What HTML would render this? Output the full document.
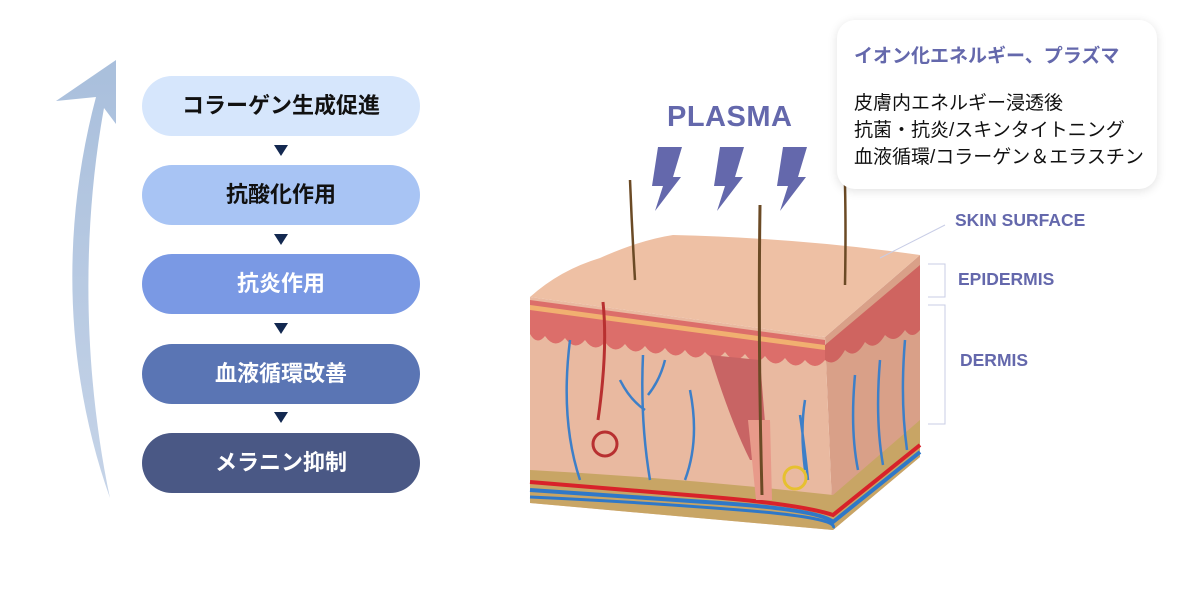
<!DOCTYPE html>
<html><head><meta charset="utf-8"><style>
body{margin:0;width:1200px;height:600px;background:#fff;overflow:hidden;position:relative;font-family:"Liberation Sans","Noto Sans CJK JP",sans-serif}
.pill{position:absolute;left:142px;width:278px;height:60px;border-radius:30px;text-align:center;line-height:60px;font-size:22px;font-weight:bold}
.tri{position:absolute;left:274px;width:0;height:0;border-left:7px solid transparent;border-right:7px solid transparent;border-top:11px solid #132850}
.box{position:absolute;left:837px;top:20px;width:320px;height:169px;background:#fff;border-radius:18px;box-shadow:0 2px 10px rgba(0,0,0,.12)}
.lbl{position:absolute;color:#6468ac;font-size:17.5px;font-weight:bold}
</style></head><body>
<svg width="1200" height="600" style="position:absolute;left:0;top:0">
<defs><linearGradient id="ag" x1="0" y1="1" x2="0" y2="0"><stop offset="0" stop-color="#c6d4e8"/><stop offset="1" stop-color="#a9bfdc"/></linearGradient></defs>
<path d="M110 498 C 68 380, 58 240, 96 97 L 56 101 L 116 60 L 116 124 L 104 108 C 80 240, 85 380, 110 498 Z" fill="url(#ag)"/>
<g fill="#6468ac">
<polygon points="658,147 682,147 673,177 681,177 655,211 663,186 652,186"/>
<polygon points="720,147 744,147 735,177 743,177 717,211 725,186 714,186"/>
<polygon points="783,147 807,147 798,177 806,177 780,211 788,186 777,186"/>
</g>
<polygon points="825,337 920,255 920,457 833,530" fill="#d9a088"/>
<polygon points="530,297 825,337 833,530 530,503" fill="#e9b9a0"/>
<path d="M530 300 L825 340 L825 360 Q815 372 805 360 Q795 372 785 358 Q775 370 765 356 Q755 368 745 354 Q735 366 725 352 Q715 364 705 352 Q695 364 685 350 Q675 362 665 348 Q655 360 645 346 Q635 358 625 344 Q615 356 605 342 Q595 354 585 340 Q575 352 565 338 Q555 350 545 336 Q537 346 530 334 Z" fill="#dc6e6a"/>
<path d="M530 305 L825 345 L825 350 L530 310 Z" fill="#f1b070"/>
<path d="M825 345 L920 265 L920 330 Q912 340 905 330 Q895 345 885 335 Q875 352 865 342 Q855 360 845 350 Q835 368 825 360 Z" fill="#cf6460"/>
<path d="M530 470 Q680 478 833 495 L920 420 L920 457 L833 530 L530 503 Z" fill="#c8a565"/>
<path d="M530 482 Q600 488 700 496 T 833 515 L920 445" stroke="#d8222a" stroke-width="4" fill="none"/>
<path d="M530 490 Q620 496 720 503 T 833 522 L920 452" stroke="#2f78c8" stroke-width="4" fill="none"/>
<path d="M530 497 Q640 502 740 510 T 833 528" stroke="#2f78c8" stroke-width="3" fill="none"/>
<path d="M530 297 Q560 270 600 258 Q640 240 673 235 Q800 238 920 255 L825 337 Z" fill="#eec0a4"/>
<g stroke="#3d7fc8" stroke-width="2.5" fill="none">
<path d="M570 340 Q560 420 580 480"/><path d="M643 355 Q640 420 650 480 M645 410 Q630 400 620 380 M648 395 Q660 380 665 360"/>
<path d="M690 390 Q700 440 685 480 M800 415 Q805 450 808 480 M805 400 Q800 430 805 470"/>
<path d="M855 375 Q850 430 858 470 M880 360 Q875 420 883 465 M905 340 Q900 400 907 450"/>
</g>
<path d="M603 302 Q608 350 598 420" stroke="#b83030" stroke-width="3" fill="none"/>
<circle cx="605" cy="444" r="12" fill="none" stroke="#b83030" stroke-width="3"/>
<path d="M710 355 Q730 420 750 460 L768 460 L760 360 Z" fill="#c86464"/>
<path d="M748 420 L770 420 L772 500 L756 500 Z" fill="#e89a8a"/>
<path d="M760 205 Q758 350 762 495" stroke="#6b4a25" stroke-width="3" fill="none"/>
<path d="M630 180 Q632 230 635 280" stroke="#6b4a25" stroke-width="2.5" fill="none"/>
<path d="M845 185 Q846 230 845 285" stroke="#6b4a25" stroke-width="2.5" fill="none"/>
<circle cx="795" cy="478" r="11" fill="none" stroke="#e6c030" stroke-width="3"/>
<g stroke="#c8cde6" stroke-width="1" fill="none">
<path d="M880 258 L945 225"/>
<path d="M928 264 L945 264 L945 297 L928 297"/>
<path d="M928 305 L945 305 L945 424 L928 424"/>
</g>
</svg>
<div class="pill" style="top:76px;background:#d6e6fc;color:#111">コラーゲン生成促進</div>
<div class="tri" style="top:145px"></div>
<div class="pill" style="top:165px;background:#a8c4f4;color:#111">抗酸化作用</div>
<div class="tri" style="top:234px"></div>
<div class="pill" style="top:254px;background:#7a99e4;color:#fff">抗炎作用</div>
<div class="tri" style="top:323px"></div>
<div class="pill" style="top:344px;background:#5a75b4;color:#fff">血液循環改善</div>
<div class="tri" style="top:412px"></div>
<div class="pill" style="top:433px;background:#4a5885;color:#fff">メラニン抑制</div>
<div style="position:absolute;left:667px;top:101px;font-size:29px;font-weight:bold;color:#6468ac;letter-spacing:0.5px">PLASMA</div>
<div class="box">
<div style="position:absolute;left:17px;top:21px;font-size:19px;color:#6468ac;font-weight:bold">イオン化エネルギー、プラズマ</div>
<div style="position:absolute;left:17px;top:70px;font-size:19px;line-height:27px;color:#111">皮膚内エネルギー浸透後<br>抗菌・抗炎/スキンタイトニング<br>血液循環/コラーゲン＆エラスチン</div>
</div>
<div class="lbl" style="left:955px;top:210px">SKIN SURFACE</div>
<div class="lbl" style="left:958px;top:269px">EPIDERMIS</div>
<div class="lbl" style="left:960px;top:350px">DERMIS</div>
</body></html>
